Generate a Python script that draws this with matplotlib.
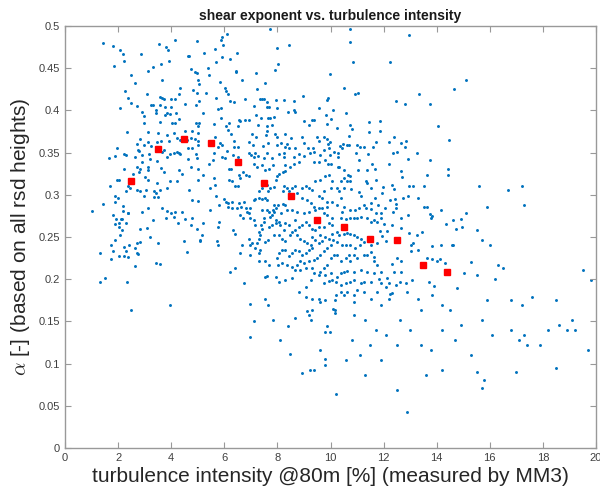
import matplotlib
matplotlib.use("Agg")
import matplotlib.pyplot as plt
import numpy as np

# ---- binned means (red squares) ----
bin_ti = [2.5, 3.5, 4.5, 5.5, 6.5, 7.5, 8.5, 9.5, 10.5, 11.5, 12.5, 13.5, 14.4]
bin_alpha = [0.316, 0.354, 0.366, 0.361, 0.339, 0.314, 0.298, 0.270, 0.262, 0.248, 0.247, 0.217, 0.208]

# ---- scatter points (turbulence intensity [%], alpha [-]) ----
pts_top_left = [
    (1.45, .4795), (1.80, .476), (2.08, .472), (2.20, .467), (2.23, .458), (1.86, .453), (2.86, .467),
    (3.55, .479), (3.80, .475), (3.87, .471), (4.16, .483), (4.96, .482), (3.91, .459), (3.60, .455),
    (3.33, .452), (3.11, .447), (2.49, .442), (2.65, .433), (2.26, .423), (2.39, .415), (2.47, .409),
    (2.09, .403), (2.73, .405), (2.89, .398), (2.97, .393), (3.09, .419), (3.58, .416), (3.66, .415),
    (3.57, .406), (3.72, .4135), (4.15, .4135), (4.01, .4135), (4.28, .419), (4.35, .4265), (3.66, .4357),
    (3.23, .406), (3.33, .406), (3.42, .400), (3.42, .397), (3.75, .4045), (3.85, .3965), (3.77, .3945),
    (3.94, .396), (4.00, .4035), (4.18, .397), (4.30, .390), (4.52, .408), (4.83, .4245), (4.97, .421),
    (4.93, .4065), (5.04, .411), (4.74, .4487), (4.88, .446), (4.97, .444), (5.01, .4357), (5.06, .431),
    (4.63, .464), (4.67, .465), (2.99, .3847), (3.57, .386), (4.04, .385), (4.15, .3845), (5.06, .385),
    (4.93, .3845),
]
pts_mid_left = [
    (2.33, .374), (3.13, .374), (3.52, .373), (3.86, .371), (4.11, .373), (4.53, .376), (4.78, .376),
    (5.01, .382), (5.01, .373), (2.84, .366), (3.14, .362), (3.60, .364), (3.91, .364), (4.21, .367),
    (4.35, .365), (4.60, .365), (4.74, .367), (4.89, .366), (5.01, .364), (2.70, .360), (2.98, .359),
    (3.23, .358), (3.48, .363), (1.95, .355), (2.75, .353), (2.80, .352), (3.73, .353), (3.65, .351),
    (4.09, .349), (4.21, .351), (4.30, .350), (4.34, .348), (4.63, .356), (4.78, .355), (5.01, .359),
    (3.17, .348), (1.67, .344), (1.87, .346), (2.24, .348), (2.29, .347), (2.62, .345), (2.89, .347),
    (3.22, .342), (3.45, .340), (2.90, .339), (3.84, .345), (3.94, .348), (4.64, .342), (4.97, .344),
    (4.93, .348), (2.23, .330), (2.72, .333), (2.83, .331), (3.11, .333), (2.79, .327), (3.12, .329),
    (3.60, .332), (3.73, .327), (4.31, .329), (4.41, .325), (4.75, .333), (5.01, .330), (2.56, .325),
    (3.03, .321), (3.14, .317), (1.96, .317), (2.02, .318), (3.45, .314), (3.95, .316), (4.20, .316),
    (2.28, .304), (2.36, .310), (2.44, .308), (2.73, .306), (2.82, .305), (1.71, .310), (3.06, .306),
    (3.57, .306), (3.85, .308), (4.68, .306), (5.01, .318), (1.89, .299), (2.00, .296), (1.89, .292),
    (3.37, .304), (3.43, .302), (3.34, .297), (3.50, .297), (2.98, .298), (1.45, .289), (1.03, .281),
    (2.20, .287), (2.19, .281), (2.36, .279), (2.90, .280), (3.12, .284), (3.66, .284), (3.84, .281),
    (4.00, .279), (4.13, .280), (4.40, .280), (4.77, .294), (5.01, .293), (1.79, .276), (2.11, .271),
    (2.16, .271), (1.92, .271), (2.05, .267), (2.29, .266), (2.39, .278), (3.33, .270), (3.81, .273),
    (4.10, .274), (4.53, .271), (4.79, .272), (1.90, .265), (2.02, .262), (2.84, .260), (3.08, .261),
    (4.26, .266), (4.75, .264), (4.96, .260),
]
pts_low_left = [
    (2.15, .258), (3.22, .250), (2.07, .252), (1.90, .247), (1.73, .240), (1.82, .233), (1.33, .231),
    (1.73, .224), (2.02, .227), (2.21, .238), (2.40, .240), (2.23, .228), (2.29, .233), (2.38, .226),
    (2.65, .237), (2.72, .243), (2.82, .244), (2.73, .231), (2.75, .230), (3.50, .243), (2.63, .216),
    (3.42, .219), (3.58, .218), (4.48, .245), (4.59, .232), (5.07, .246), (1.52, .202), (1.33, .197),
    (2.33, .197), (3.96, .169), (2.50, .164),
]
pts_top_mid = [
    (6.11, .491), (5.90, .487), (5.87, .483), (5.96, .477), (7.72, .496), (7.99, .474), (8.42, .477),
    (5.65, .473), (5.25, .468), (6.21, .461), (6.49, .468), (5.90, .463), (5.69, .457), (5.38, .450),
    (6.44, .447), (6.43, .445), (7.20, .444), (7.90, .448), (8.03, .455), (9.99, .443), (5.85, .434),
    (6.68, .436), (7.55, .433), (5.42, .442), (6.01, .426), (6.06, .423), (6.13, .420), (7.25, .425),
    (5.32, .421), (5.67, .415), (6.23, .411), (6.37, .410), (6.78, .413), (7.36, .413), (7.43, .413),
    (7.51, .413), (7.61, .410), (7.96, .412), (8.24, .412), (8.62, .411), (8.96, .417), (9.91, .415),
    (9.86, .412), (5.77, .402), (5.89, .403), (7.10, .405), (7.59, .404), (7.69, .404), (8.00, .403),
    (8.40, .398), (8.64, .400), (8.67, .398), (9.57, .403), (10.08, .400), (5.20, .397), (5.87, .391),
    (6.19, .385), (6.54, .389), (6.59, .388), (6.77, .389), (6.92, .389), (7.20, .394), (7.37, .391),
    (7.65, .391), (7.71, .391), (7.89, .392), (9.02, .387), (9.32, .389), (9.38, .389), (9.20, .383),
    (9.83, .395), (10.03, .390), (9.85, .384), (5.62, .384), (6.08, .382), (6.50, .382), (6.13, .377),
    (6.25, .372), (7.27, .383), (7.60, .381), (7.80, .383), (7.62, .376), (7.06, .372), (7.21, .369),
    (7.56, .371), (7.90, .372), (7.98, .368), (8.29, .372), (8.52, .367), (5.66, .369), (5.84, .361),
    (5.91, .359), (5.76, .357), (6.10, .352), (6.35, .364), (6.38, .357), (6.52, .357), (6.92, .363),
    (7.08, .359), (7.47, .358), (7.66, .361), (7.98, .359), (8.15, .361), (8.28, .357), (8.35, .360),
    (8.45, .355), (8.68, .356), (8.92, .368), (9.00, .361), (9.15, .356), (9.33, .355), (9.51, .368),
    (9.56, .364), (9.77, .369), (9.88, .366), (9.89, .360), (9.74, .353), (9.93, .355), (9.99, .363),
    (5.61, .349), (5.90, .345), (6.04, .344), (6.33, .347), (6.53, .345), (6.92, .349), (7.02, .347),
    (7.11, .345), (7.16, .350), (7.28, .346), (7.48, .344), (7.60, .350), (7.79, .344), (8.05, .348),
    (8.24, .345), (8.26, .350), (8.62, .345), (8.81, .348), (9.02, .346), (9.21, .350), (9.39, .351),
    (9.62, .347), (9.99, .347), (10.15, .351),
]
pts_center = [
    (5.20, .324), (5.41, .336), (5.56, .341), (6.16, .331), (6.25, .331), (6.69, .327), (6.82, .324),
    (6.93, .322), (6.55, .323), (6.16, .318), (6.29, .316), (6.42, .311), (6.52, .310), (6.60, .320),
    (5.61, .320), (5.48, .308), (5.64, .312), (5.69, .299), (5.98, .295), (6.05, .292), (6.14, .290),
    (6.13, .286), (6.29, .284), (6.48, .284), (6.64, .286), (6.82, .284), (6.92, .278), (6.98, .284),
    (7.11, .294), (7.17, .295), (7.30, .296), (7.42, .295), (7.55, .296), (7.61, .294), (7.30, .304),
    (7.42, .308), (7.59, .312), (7.65, .305), (7.74, .308), (7.86, .309), (7.95, .318), (7.99, .322),
    (8.05, .325), (8.20, .327), (8.30, .328), (8.30, .335), (8.49, .333), (8.62, .337), (8.81, .339),
    (9.37, .339), (9.56, .339), (9.79, .341), (9.90, .337), (10.00, .336), (7.82, .335), (7.67, .331),
    (7.55, .329), (7.42, .335), (7.23, .333), (7.11, .337), (8.24, .310), (8.37, .308), (8.55, .308),
    (8.68, .310), (8.20, .304), (8.43, .304), (8.74, .302), (8.93, .308), (9.06, .310), (9.18, .308),
    (9.31, .306), (9.43, .316), (9.62, .318), (9.81, .322), (9.94, .323), (10.06, .316), (10.00, .308),
    (9.75, .304), (9.56, .298), (9.69, .296), (9.88, .292), (10.06, .292), (8.93, .296), (9.12, .294),
    (9.25, .290), (9.37, .286), (9.43, .282), (9.56, .284), (9.69, .284), (9.88, .286), (9.18, .280),
    (8.99, .278), (8.74, .280), (8.55, .282), (8.37, .282), (8.20, .289), (8.03, .288), (7.93, .284),
    (7.86, .280), (7.80, .276), (7.95, .270), (8.05, .268), (8.11, .264), (7.93, .266), (7.80, .264),
    (7.70, .262), (7.48, .268), (7.40, .264), (7.42, .260), (7.30, .256), (7.36, .252), (7.32, .248),
    (7.23, .243), (7.17, .237), (7.36, .235), (7.30, .231), (7.52, .244), (7.65, .247), (7.86, .252),
    (8.05, .252), (8.18, .248), (8.30, .245), (8.49, .252), (8.55, .256), (8.68, .258), (8.81, .262),
    (8.93, .264), (9.06, .268), (9.18, .264), (9.31, .260), (9.43, .258), (9.56, .262), (9.75, .262),
    (9.94, .266), (10.06, .264), (10.04, .272), (9.88, .276), (9.75, .278), (8.68, .270), (8.43, .264),
    (8.30, .266), (8.24, .258), (8.74, .252), (8.87, .248), (8.99, .245), (9.12, .243), (9.25, .241),
    (9.31, .237), (9.18, .235), (9.06, .231), (8.93, .229), (8.81, .233), (8.68, .235), (8.55, .231),
    (8.43, .227), (8.30, .235), (8.18, .235), (8.05, .231), (7.99, .225), (8.03, .217), (8.18, .219),
    (8.37, .217), (8.55, .215), (8.74, .217), (8.87, .221), (8.99, .219), (9.18, .221), (9.37, .223),
    (9.50, .225), (9.62, .229), (9.75, .233), (9.88, .237), (10.00, .241), (10.09, .246), (9.94, .248),
    (9.69, .245), (9.56, .243), (9.43, .246), (9.31, .250), (9.62, .252), (9.81, .250), (10.06, .254),
    (10.13, .229), (10.00, .225), (9.88, .217), (9.75, .213), (9.62, .209), (9.56, .205), (9.81, .205),
    (10.00, .207), (10.06, .199), (9.94, .198), (9.75, .195), (9.25, .199), (9.06, .191), (8.81, .185),
    (9.06, .179), (9.31, .177), (9.56, .176), (7.55, .177), (6.73, .195), (7.55, .203), (7.61, .204),
    (7.93, .203), (8.05, .197), (8.30, .199), (8.55, .201), (8.68, .211), (8.87, .211), (9.06, .213),
    (9.31, .213), (9.37, .207), (6.42, .213), (6.20, .209), (6.98, .229), (7.30, .221), (7.55, .221),
    (7.67, .217), (6.60, .231), (6.67, .241), (6.98, .241), (7.04, .243), (6.92, .248), (6.31, .258),
    (6.42, .254), (5.79, .268), (5.76, .262), (5.75, .241), (5.72, .245), (5.16, .252), (5.09, .245),
    (5.18, .266), (5.79, .288), (6.29, .291), (6.54, .290), (6.73, .292), (6.86, .280), (6.60, .276),
    (6.71, .272), (6.98, .272), (7.11, .270), (7.17, .264), (7.48, .272), (7.74, .274), (7.42, .282),
    (7.61, .282), (7.70, .280), (7.82, .282), (7.86, .288), (8.15, .278), (8.28, .288), (5.47, .282),
]
pts_low_mid = [
    (9.81, .175), (9.60, .173), (10.17, .175), (6.98, .171), (7.66, .169), (9.13, .162), (9.31, .164),
    (9.20, .157), (9.26, .152), (10.08, .165), (10.17, .164), (10.18, .160), (7.10, .150), (7.84, .152),
    (8.66, .154), (8.39, .144), (9.85, .144), (9.81, .137), (9.99, .137), (6.96, .131), (8.10, .128),
    (9.59, .116), (8.49, .111), (9.81, .106), (9.81, .098), (8.92, .089), (9.22, .092), (9.36, .093),
    (10.19, .064),
]
pts_top_right = [
    (10.73, .496), (12.97, .489), (10.73, .481), (10.83, .457), (12.24, .457), (10.49, .426),
    (10.92, .420), (11.03, .421), (14.65, .425), (13.32, .419), (12.47, .411), (12.79, .407),
    (13.75, .407), (10.60, .397), (10.24, .379), (10.72, .383), (10.82, .378), (11.46, .386),
    (11.86, .387), (11.86, .376), (11.45, .374), (10.69, .370), (14.05, .381), (14.45, .365),
    (11.72, .363), (12.39, .368), (12.21, .363), (12.83, .364), (12.64, .361), (12.82, .357),
    (11.59, .357), (11.26, .357), (11.11, .357), (11.01, .359), (10.63, .359), (10.69, .359),
    (10.48, .360), (10.34, .358), (10.45, .355), (10.30, .350), (10.28, .345), (10.97, .349),
    (11.42, .348), (12.34, .350), (12.52, .351), (13.27, .350), (12.92, .342),
]
pts_mid_right = [
    (11.07, .341), (11.56, .336), (11.67, .331), (11.38, .329), (11.04, .329), (12.21, .337), (13.75, .341),
    (14.43, .330), (14.43, .324), (12.65, .328), (12.69, .321), (13.65, .324), (10.33, .333), (10.29, .333),
    (10.50, .329), (10.65, .324), (10.75, .322), (10.73, .316), (10.50, .320), (10.63, .316), (10.38, .316),
    (10.25, .308), (10.31, .304), (10.50, .308), (10.78, .307), (11.07, .303), (11.16, .298), (11.33, .316),
    (11.36, .314), (11.72, .318), (11.51, .308), (11.98, .309), (12.30, .312), (12.40, .307), (12.97, .311),
    (13.11, .311), (13.52, .310), (11.95, .302), (12.23, .294), (12.44, .295), (12.73, .296), (12.92, .298),
    (12.47, .289), (12.34, .280), (11.66, .296), (11.53, .290), (11.79, .288), (12.04, .284), (11.91, .279),
    (11.71, .278), (11.51, .283), (11.26, .288), (11.32, .284), (11.07, .284), (10.91, .282), (10.73, .282),
    (10.50, .286), (10.25, .288), (10.38, .296), (10.44, .280), (10.38, .272), (10.57, .271), (10.75, .272),
    (10.88, .272), (11.01, .273), (11.16, .274), (11.38, .272), (11.53, .268), (11.64, .270), (11.76, .268),
    (11.89, .273), (12.01, .265), (12.33, .264), (12.14, .257), (11.86, .257), (11.95, .251), (12.08, .245),
    (11.76, .243), (11.51, .241), (11.26, .244), (11.13, .248), (11.01, .250), (10.88, .252), (10.75, .254),
    (10.63, .255), (10.50, .253), (10.31, .252), (10.23, .256), (10.25, .244), (10.44, .241), (10.60, .240),
    (10.75, .241), (10.91, .237), (11.11, .241), (10.88, .229), (10.69, .229), (10.57, .225), (10.38, .221),
    (10.25, .229), (10.75, .221), (11.01, .225), (11.26, .229), (11.38, .229), (11.51, .232), (11.64, .226),
    (11.64, .221), (11.76, .217), (11.38, .209), (11.13, .211), (10.88, .209), (10.63, .210), (10.50, .209),
    (10.38, .207), (10.23, .203), (10.19, .197), (10.38, .193), (10.57, .195), (10.75, .197), (10.88, .199),
    (11.13, .195), (11.26, .197), (11.51, .197), (11.82, .200), (11.89, .196), (12.14, .201), (12.20, .195),
    (12.08, .191), (12.45, .193), (12.62, .197), (12.83, .195), (13.08, .199), (12.96, .255), (13.27, .252),
    (13.46, .256), (13.04, .241), (13.02, .233), (13.30, .235), (13.12, .243), (13.62, .225), (13.81, .224),
    (14.00, .221), (14.13, .224), (14.30, .219), (13.84, .239), (14.15, .240), (14.62, .240), (14.57, .241),
    (13.72, .197), (13.90, .192), (14.78, .190), (15.03, .207), (14.34, .265), (14.72, .260), (14.94, .262),
    (13.81, .275), (13.77, .272), (14.15, .282), (14.63, .270), (14.91, .271), (13.30, .296), (13.52, .286),
    (13.65, .285), (13.75, .277), (12.93, .276), (12.64, .261), (12.64, .272), (12.48, .284), (12.52, .225),
    (12.33, .218), (12.39, .209), (12.64, .209), (12.64, .221), (11.89, .209), (11.64, .207), (11.26, .185),
    (11.01, .187), (10.88, .181), (10.63, .185), (10.50, .181), (10.38, .185), (10.19, .181), (11.51, .177),
    (11.76, .185), (12.24, .182), (12.33, .184), (12.89, .185), (13.30, .177), (13.84, .181), (12.20, .177),
]
pts_low_right = [
    (10.9, .173), (11.9, .170), (13.4, .164), (14.2, .170), (14.5, .164), (14.9, .146), (10.9, .158),
    (11.3, .152), (11.7, .140), (12.1, .134), (12.5, .122), (12.6, .152), (13.0, .140), (13.4, .122),
    (13.8, .116), (14.2, .140), (14.7, .128), (10.8, .128), (10.6, .104), (11.1, .110), (11.5, .122),
    (11.9, .104), (11.3, .086), (12.9, .043), (14.2, .092), (13.6, .086), (12.5, .069),
]
pts_far_right = [
    (15.1, .436), (15.6, .310), (15.9, .286), (16.7, .306), (17.2, .310), (17.3, .288), (15.1, .278),
    (15.5, .258), (15.7, .246), (16.0, .240), (16.3, .217), (16.5, .213), (16.2, .200), (15.3, .220),
    (15.5, .205), (15.9, .175), (16.8, .175), (17.2, .170), (17.6, .179), (18.5, .175), (15.7, .152),
    (16.1, .134), (16.8, .140), (17.1, .128), (17.3, .134), (17.4, .122), (17.9, .122), (18.2, .140),
    (18.6, .146), (18.9, .140), (19.1, .152), (19.5, .211), (19.8, .199), (19.7, .116), (19.2, .140),
    (18.5, .095), (17.0, .090), (15.3, .110), (15.8, .080), (15.7, .071), (15.5, .090),
]

groups = [pts_top_left, pts_mid_left, pts_low_left, pts_top_mid, pts_center,
          pts_low_mid, pts_top_right, pts_mid_right, pts_low_right, pts_far_right]
all_pts = np.array([p for g in groups for p in g])

plt.rcParams['font.family'] = ['Liberation Sans', 'DejaVu Sans']
plt.rcParams['mathtext.fontset'] = 'cm'

fig = plt.figure(figsize=(6.0, 4.97), dpi=100)
ax = fig.add_axes([65 / 600, 1 - 448 / 497, 531 / 600, 422 / 497])

ax.scatter(all_pts[:, 0], all_pts[:, 1], s=4.5, color='#0072BD', marker='o', linewidths=0)
ax.plot(bin_ti, bin_alpha, linestyle='none', marker='s', markersize=4.5, color='#FF0000')

ax.set_xlim(0, 20)
ax.set_ylim(0, 0.5)
ax.set_xticks(np.arange(0, 21, 2))
ax.set_yticks(np.arange(0, 0.501, 0.05))
ax.set_yticklabels(['0', '0.05', '0.1', '0.15', '0.2', '0.25', '0.3', '0.35', '0.4', '0.45', '0.5'])
ax.tick_params(direction='in', length=4, width=0.8, colors='#999999', labelcolor='#404040',
               labelsize=8, top=True, right=True)
for s in ax.spines.values():
    s.set_color('#999999')
    s.set_linewidth(1.0)

ax.set_title('shear exponent vs. turbulence intensity', fontsize=10, fontweight='bold', color='#1a1a1a', pad=4)
ax.set_xlabel('turbulence intensity @80m [%] (measured by MM3)', fontsize=15, color='#262626', labelpad=3)
ax.set_ylabel(r'$\alpha$ [-] (based on all rsd heights)', fontsize=15, color='#262626', labelpad=5)

fig.savefig('out.png', dpi=100)
